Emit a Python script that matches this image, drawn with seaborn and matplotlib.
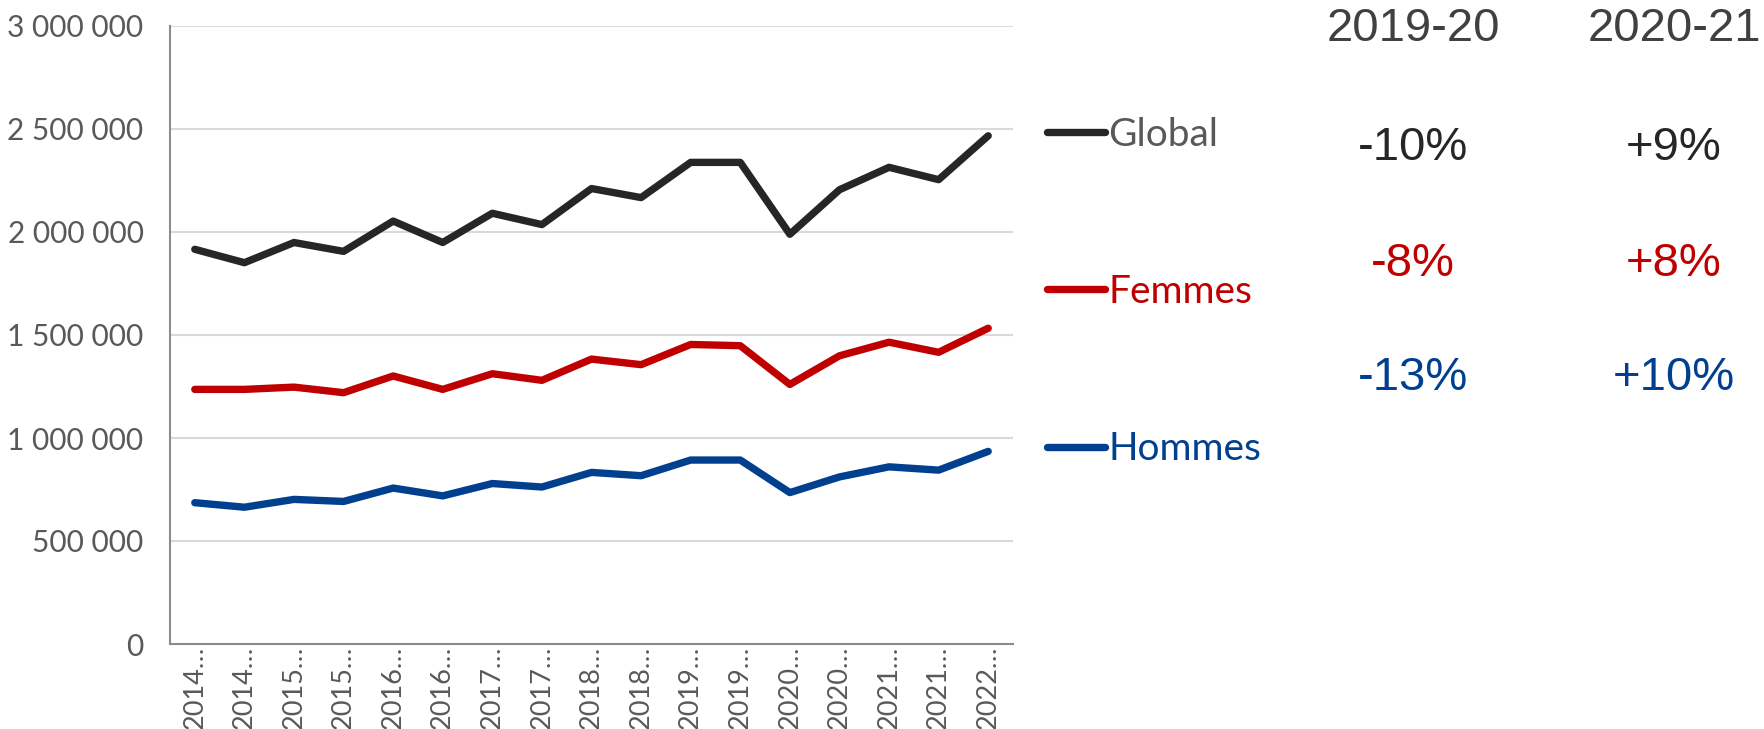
import numpy as np
import pandas as pd
import matplotlib
matplotlib.use('Agg')
import matplotlib.pyplot as plt
import seaborn as sns
from matplotlib.lines import Line2D

# Periods (labels are truncated in the original chart)
periods = ['2014…', '2014…', '2015…', '2015…', '2016…', '2016…', '2017…', '2017…',
           '2018…', '2018…', '2019…', '2019…', '2020…', '2020…', '2021…', '2021…', '2022…']

global_vals = [1916000, 1851000, 1949000, 1906000, 2053000, 1949000, 2091000, 2036000,
               2211000, 2167000, 2338000, 2338000, 1989000, 2205000, 2314000, 2254000, 2467000]
femmes_vals = [1236000, 1236000, 1247000, 1220000, 1301000, 1236000, 1312000, 1280000,
               1383000, 1356000, 1454000, 1448000, 1260000, 1399000, 1465000, 1416000, 1533000]
hommes_vals = [686000, 664000, 702000, 692000, 757000, 719000, 779000, 762000,
               833000, 817000, 893000, 893000, 735000, 811000, 860000, 844000, 935000]

series = ['Global', 'Femmes', 'Hommes']
line_colors = {'Global': '#262626', 'Femmes': '#C00000', 'Hommes': '#00408F'}
label_colors = {'Global': '#595959', 'Femmes': '#C00000', 'Hommes': '#00408F'}
pct_colors = {'Global': '#262626', 'Femmes': '#C00000', 'Hommes': '#00408F'}

change_headers = ['2019-20', '2020-21']
change_2019_20 = ['-10%', '-8%', '-13%']
change_2020_21 = ['+9%', '+8%', '+10%']

# long-form table for seaborn
idx = np.arange(len(periods))
df = pd.concat([
    pd.DataFrame({'periode': idx, 'valeur': vals, 'serie': name})
    for name, vals in zip(series, [global_vals, femmes_vals, hommes_vals])
])

sns.set_style('white')
plt.rcParams['font.family'] = ['Lato', 'DejaVu Sans']

W, H = 1765, 729
fig = plt.figure(figsize=(W / 100, H / 100), dpi=100)
ax = fig.add_axes([170 / W, 1 - 644 / H, 843 / W, 618 / H])

lw = 5.3
sns.lineplot(data=df, x='periode', y='valeur', hue='serie', hue_order=series,
             palette=line_colors, linewidth=lw, legend=False, sort=False, ax=ax,
             solid_capstyle='round', solid_joinstyle='round')

ax.set_xlim(-0.5, len(periods) - 0.5)
ax.set_ylim(0, 3000000)
ax.set_xlabel('')
ax.set_ylabel('')

yticks = np.arange(0, 3000001, 500000)
ax.set_yticks(yticks)
ax.set_yticklabels([f'{int(v):,}'.replace(',', ' ') for v in yticks])
ax.yaxis.grid(True, color='#D9D9D9', linewidth=1.5)
ax.set_axisbelow(True)

ax.set_xticks(idx)
ax.set_xticklabels(periods, rotation=90, va='top', ha='center')
ax.set_xticks(np.arange(-0.5, len(periods), 1), minor=True)
ax.tick_params(axis='x', which='major', length=0, pad=1, labelsize=19.5, labelcolor='#595959')
ax.tick_params(axis='x', which='minor', direction='in', length=7, width=1.3, color='#8C8C8C')
ax.tick_params(axis='y', length=0, pad=19, labelsize=21.5, labelcolor='#595959')

for s in ['top', 'right']:
    ax.spines[s].set_visible(False)
for s in ['left', 'bottom']:
    ax.spines[s].set_color('#8C8C8C')
    ax.spines[s].set_linewidth(1.5)

# legend on the right
handles = [Line2D([], [], color=line_colors[s], linewidth=lw, solid_capstyle='round') for s in series]
leg = ax.legend(handles, series, loc='center left', bbox_to_anchor=(1047 / W, 1 - 292 / H),
                bbox_transform=fig.transFigure, frameon=False, fontsize=28,
                handlelength=1.5, handletextpad=0.08, labelspacing=3.12, borderpad=0,
                borderaxespad=0)
for txt, s in zip(leg.get_texts(), series):
    txt.set_color(label_colors[s])

# change columns
col_x = [1413 / W, 1674 / W]
row_y = [1 - 148 / H, 1 - 264 / H, 1 - 378 / H]
for cx, head, vals in zip(col_x, change_headers, [change_2019_20, change_2020_21]):
    fig.text(cx, 1 - 29 / H, head, ha='center', va='center', fontsize=34,
             color='#404040', family=['Liberation Sans', 'DejaVu Sans'])
    for ry, v, s in zip(row_y, vals, series):
        fig.text(cx, ry, v, ha='center', va='center', fontsize=34,
                 color=pct_colors[s], family=['Liberation Sans', 'DejaVu Sans'])

fig.savefig('out.png', dpi=100)
